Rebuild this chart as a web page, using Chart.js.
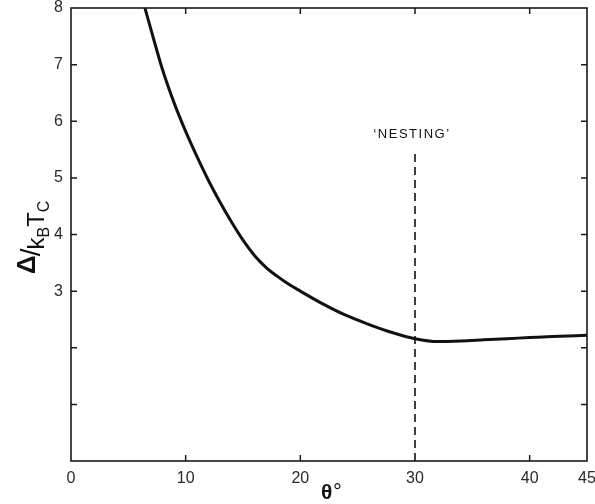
<!DOCTYPE html>
<html>
<head>
<meta charset="utf-8">
<script src="https://cdn.jsdelivr.net/npm/chart.js@4.4.1/dist/chart.umd.min.js"></script>
<style>
  html, body { margin: 0; padding: 0; background: #fff; }
  #wrap { width: 595px; height: 504px; }
</style>
</head>
<body>
<div id="wrap"><canvas id="c" width="595" height="504"></canvas></div>
<script>
// ---- data ----
const theta = [6.45, 7, 8, 9, 10, 11, 12, 13, 14, 15, 16, 17, 18, 19, 20, 22, 24, 26, 28, 30, 32, 34, 36, 38, 40, 42, 45];
const gapRatio = [8.0, 7.6, 6.9, 6.32, 5.82, 5.37, 4.95, 4.57, 4.22, 3.9, 3.63, 3.42, 3.26, 3.12, 3.0, 2.77, 2.57, 2.41, 2.27, 2.16, 2.11, 2.12, 2.14, 2.16, 2.18, 2.2, 2.22];
const nestingTheta = 30;
const nestingTop = 5.5;
const xTickValues = [0, 10, 20, 30, 40, 45];
const yLabelledTicks = [3, 4, 5, 6, 7, 8];
const innerXTicks = [10, 20, 30, 40];
const innerYTicks = [1, 2, 3, 4, 5, 6, 7];
const nestingLabel = "\u2018NESTING\u2019";

const curvePoints = theta.map((t, i) => ({ x: t, y: gapRatio[i] }));
const nestingPoints = [{ x: nestingTheta, y: 0 }, { x: nestingTheta, y: nestingTop }];

const decor = {
  id: 'decor',
  afterDraw(chart) {
    const ctx = chart.ctx;
    const a = chart.chartArea;
    const xs = chart.scales.x, ys = chart.scales.y;
    ctx.save();
    // box
    ctx.strokeStyle = '#1a1a1a';
    ctx.lineWidth = 1.6;
    ctx.strokeRect(a.left, a.top, a.right - a.left, a.bottom - a.top);
    // inward ticks
    const tl = 6;
    ctx.lineWidth = 1.5;
    ctx.beginPath();
    innerXTicks.forEach(v => {
      const px = xs.getPixelForValue(v);
      if (v !== nestingTheta) { ctx.moveTo(px, a.bottom); ctx.lineTo(px, a.bottom - tl); }
      ctx.moveTo(px, a.top); ctx.lineTo(px, a.top + tl);
    });
    innerYTicks.forEach(v => {
      const py = ys.getPixelForValue(v);
      ctx.moveTo(a.left, py); ctx.lineTo(a.left + tl, py);
      ctx.moveTo(a.right, py); ctx.lineTo(a.right - tl, py);
    });
    ctx.stroke();
    // NESTING label
    ctx.fillStyle = '#111';
    ctx.font = '13px "Liberation Sans"';
    ctx.textAlign = 'center';
    ctx.textBaseline = 'alphabetic';
    if ('letterSpacing' in ctx) ctx.letterSpacing = '1.5px';
    ctx.fillText(nestingLabel, xs.getPixelForValue(nestingTheta) - 3, ys.getPixelForValue(nestingTop) - 12);
    if ('letterSpacing' in ctx) ctx.letterSpacing = '0px';
    // x title
    ctx.font = 'bold 21px "Liberation Sans"';
    ctx.textAlign = 'left';
    ctx.fillText('\u03B8', 321, 499);
    ctx.font = '22px "Liberation Sans"';
    ctx.fillText('\u00B0', 333, 499);
    // y title (rotated)
    ctx.translate(44, 274);
    ctx.rotate(-Math.PI / 2);
    ctx.textAlign = 'left';
    let x = 0;
    ctx.font = 'bold 26px "Liberation Sans"';
    ctx.fillText('\u0394', x, -9); x += ctx.measureText('\u0394').width - 1;
    ctx.font = '28px "Liberation Sans"';
    ctx.fillText('/', x, -4); x += ctx.measureText('/').width - 1;
    ctx.font = '24px "Liberation Sans"';
    ctx.fillText('k', x, 0); x += ctx.measureText('k').width;
    ctx.font = '16px "Liberation Sans"';
    ctx.fillText('B', x, 5); x += ctx.measureText('B').width;
    ctx.font = '24px "Liberation Sans"';
    ctx.fillText('T', x, 0); x += ctx.measureText('T').width;
    ctx.font = '16px "Liberation Sans"';
    ctx.fillText('C', x, 5);
    ctx.restore();
  }
};

new Chart(document.getElementById('c'), {
  type: 'scatter',
  data: {
    datasets: [
      {
        data: curvePoints,
        showLine: true,
        borderColor: '#111',
        borderWidth: 3,
        pointRadius: 0,
        cubicInterpolationMode: 'monotone'
      },
      {
        data: nestingPoints,
        showLine: true,
        borderColor: '#111',
        borderWidth: 1.6,
        borderDash: [8, 5],
        pointRadius: 0
      }
    ]
  },
  options: {
    responsive: false,
    animation: false,
    events: [],
    layout: { autoPadding: false, padding: { top: 8, right: 8, left: 0, bottom: 0 } },
    plugins: { legend: { display: false }, tooltip: { enabled: false }, title: { display: false } },
    scales: {
      x: {
        type: 'linear', min: 0, max: 45,
        afterBuildTicks(s) { s.ticks = xTickValues.map(v => ({ value: v })); },
        afterFit(s) { s.height = 43; s.paddingLeft = 0; s.paddingRight = 0; s.paddingTop = 0; s.paddingBottom = 0; },
        grid: { display: false, drawTicks: false },
        border: { display: false },
        ticks: { padding: 8, color: '#2a2a2a', font: { family: 'Liberation Sans', size: 16 }, maxRotation: 0, autoSkip: false,
          callback: v => String(v) }
      },
      y: {
        type: 'linear', min: 0, max: 8,
        ticks: { stepSize: 1, padding: 8, color: '#2a2a2a', font: { family: 'Liberation Sans', size: 16 },
          callback: v => (yLabelledTicks.includes(v) ? String(v) : '') },
        afterFit(s) { s.width = 71; s.paddingLeft = 0; s.paddingRight = 0; s.paddingTop = 0; s.paddingBottom = 0; },
        grid: { display: false, drawTicks: false },
        border: { display: false }
      }
    }
  },
  plugins: [decor]
});
</script>
</body>
</html>
